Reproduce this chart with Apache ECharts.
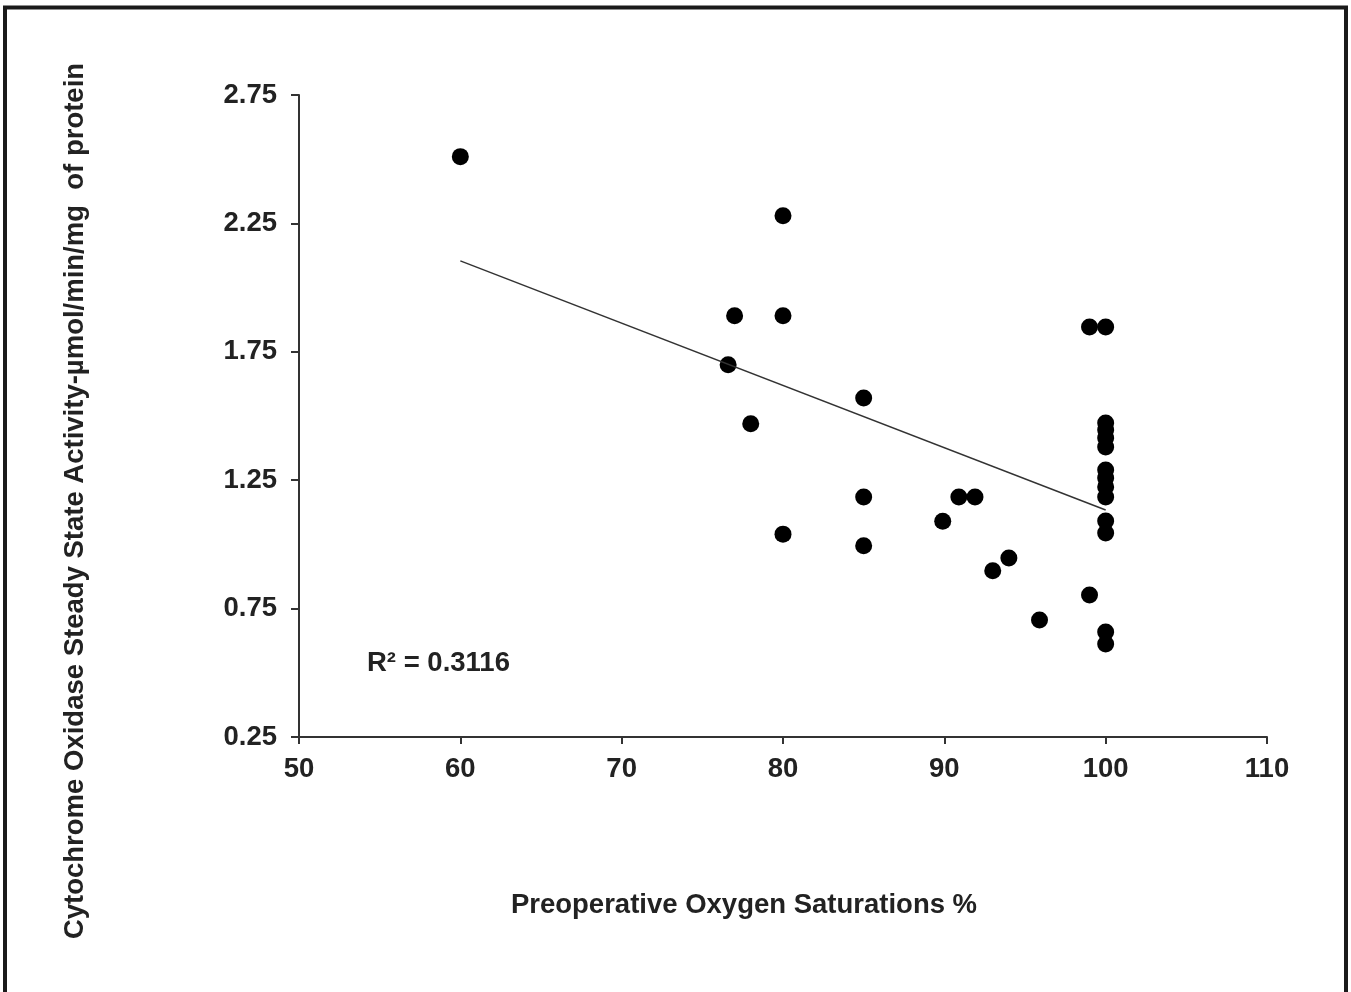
<!DOCTYPE html>
<html><head><meta charset="utf-8">
<script src="https://cdn.jsdelivr.net/npm/echarts@6/dist/echarts.min.js"></script>
<style>html,body{margin:0;padding:0;background:#fff}#c{width:1351px;height:992px}</style>
</head><body><div id="c"></div>
<script>
const xTicks = [50, 60, 70, 80, 90, 100, 110];
const yTicks = [0.25, 0.75, 1.25, 1.75, 2.25, 2.75];
const saturation = [60, 80, 77, 80, 76.6, 78, 85, 80, 85, 85, 90.9, 91.9, 89.9, 94, 93, 95.9, 99, 99,
  100, 100, 100, 100, 100, 100, 100, 100, 100, 100, 100, 100, 100];
const activity = [2.51, 2.28, 1.89, 1.89, 1.70, 1.47, 1.57, 1.04, 1.185, 0.995, 1.185, 1.185, 1.09, 0.947, 0.897, 0.706, 0.803, 1.847,
  1.847, 1.473, 1.445, 1.414, 1.379, 1.29, 1.259, 1.224, 1.185, 1.091, 1.044, 0.659, 0.612];
const trendX = [60, 100];
const trendY = [2.104, 1.134];
const xTitle = 'Preoperative Oxygen Saturations %';
const yTitle = 'Cytochrome Oxidase Steady State Activity-µmol/min/mg  of protein';
const rSquaredLabel = 'R² = 0.3116';

const chart = echarts.init(document.getElementById('c'));
const font = 'Liberation Sans, Arial, sans-serif';
const fs = 27.5;
chart.setOption({
  animation: false,
  grid: { left: 299, right: 84, top: 95, bottom: 255 },
  xAxis: {
    type: 'value', min: xTicks[0], max: xTicks[xTicks.length-1], interval: 10,
    axisLine: { lineStyle: { color: '#333', width: 2 } },
    axisTick: { length: 7, lineStyle: { color: '#333', width: 2 } },
    axisLabel: { fontFamily: font, fontWeight: 'bold', fontSize: fs, color: '#222', margin: 18 },
    splitLine: { show: false }
  },
  yAxis: {
    type: 'value', min: yTicks[0], max: yTicks[yTicks.length-1], interval: 0.5,
    axisLine: { show: true, lineStyle: { color: '#333', width: 2 } },
    axisTick: { show: true, length: 8, lineStyle: { color: '#333', width: 2 } },
    axisLabel: { fontFamily: font, fontWeight: 'bold', fontSize: fs, color: '#222', margin: 22,
      formatter: v => v.toFixed(2) },
    splitLine: { show: false }
  },
  series: [
    { type: 'scatter', symbolSize: 17, itemStyle: { color: '#000', opacity: 1 },
      data: saturation.map((x, i) => [x, activity[i]]) },
    { type: 'line', symbol: 'none', lineStyle: { color: '#333', width: 1.5 },
      data: trendX.map((x, i) => [x, trendY[i]]) }
  ],
  graphic: [
    { type: 'polyline', shape: { points: [[5, 995], [5, 7.5], [1346, 7.5], [1346, 995]] },
      style: { fill: 'none', stroke: '#1a1a1a', lineWidth: 4 } },
    { type: 'text', x: 744, y: 905,
      style: { text: xTitle, fontFamily: font, fontWeight: 'bold', fontSize: fs, fill: '#222',
        align: 'center', verticalAlign: 'middle' } },
    { type: 'text', x: 75, y: 501, rotation: Math.PI / 2,
      style: { text: yTitle, fontFamily: font, fontWeight: 'bold', fontSize: fs, fill: '#222',
        align: 'center', verticalAlign: 'middle' } },
    { type: 'text', x: 367, y: 663,
      style: { text: rSquaredLabel, fontFamily: font, fontWeight: 'bold', fontSize: fs, fill: '#222',
        align: 'left', verticalAlign: 'middle' } }
  ]
});
</script></body></html>
